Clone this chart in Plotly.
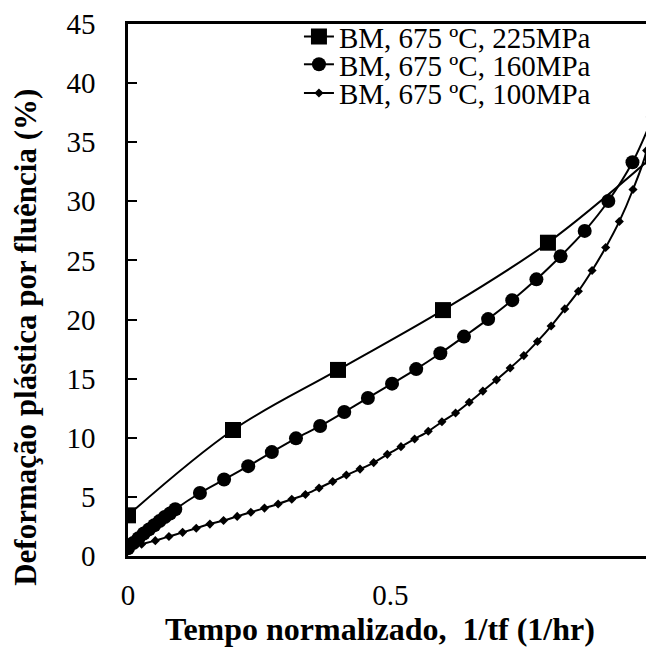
import plotly.graph_objects as go

# ---- data ----
x_225 = [0.0, 0.2, 0.4, 0.6, 0.8, 1.0]
y_225 = [3.44, 10.66, 15.74, 20.8, 26.5, 33.8]

x_160 = [0.0, 0.01, 0.02, 0.03, 0.04, 0.05, 0.06, 0.07, 0.08, 0.09,
         0.137, 0.183, 0.229, 0.274, 0.320, 0.366, 0.412, 0.457, 0.503, 0.549,
         0.595, 0.640, 0.686, 0.732, 0.778, 0.824, 0.870, 0.915, 0.961, 1.0]
y_160 = [0.65, 1.1, 1.5, 1.9, 2.25, 2.6, 2.95, 3.3, 3.6, 3.95,
         5.33, 6.47, 7.6, 8.79, 9.95, 11.0, 12.18, 13.37, 14.58, 15.81,
         17.15, 18.56, 20.04, 21.64, 23.4, 25.36, 27.5, 30.03, 33.3, 37.17]

x_100 = [0.000, 0.026, 0.052, 0.078, 0.104, 0.130, 0.156, 0.182, 0.208, 0.234,
         0.260, 0.286, 0.312, 0.338, 0.364, 0.390, 0.416, 0.442, 0.468, 0.494,
         0.520, 0.546, 0.572, 0.598, 0.624, 0.650, 0.676, 0.702, 0.728, 0.754,
         0.780, 0.806, 0.832, 0.858, 0.884, 0.910, 0.936, 0.962, 0.988, 1.000]
y_100 = [0.7, 1.0, 1.3, 1.65, 2.0, 2.35, 2.7, 3.0, 3.35, 3.7,
         4.05, 4.4, 4.8, 5.2, 5.75, 6.3, 6.85, 7.35, 7.9, 8.6,
         9.25, 9.9, 10.55, 11.35, 12.1, 13.0, 13.95, 14.9, 15.9, 16.95,
         18.15, 19.45, 20.9, 22.4, 24.15, 26.1, 28.3, 31.0, 34.3, 38.0]

series_names = ["BM, 675 ºC, 225MPa", "BM, 675 ºC, 160MPa", "BM, 675 ºC, 100MPa"]
x_ticks = [0, 0.5, 1]
x_tick_labels = ["0", "0.5", "1"]
y_ticks = [0, 5, 10, 15, 20, 25, 30, 35, 40, 45]

x_title = "Tempo normalizado,  1/tf (1/hr)"
y_title = "Deformação plástica por fluência (%)"

FONT = "Liberation Serif"

fig = go.Figure()
fig.add_trace(go.Scatter(x=x_225, y=y_225, mode="lines+markers", name=series_names[0],
                         line=dict(color="black", width=2, shape="spline"),
                         marker=dict(symbol="square", size=16, color="black"),
                         legend="legend"))
fig.add_trace(go.Scatter(x=x_160, y=y_160, mode="lines+markers", name=series_names[1],
                         line=dict(color="black", width=2, shape="spline"),
                         marker=dict(symbol="circle", size=14, color="black"),
                         legend="legend2"))
fig.add_trace(go.Scatter(x=x_100, y=y_100, mode="lines+markers", name=series_names[2],
                         line=dict(color="black", width=2, shape="spline"),
                         marker=dict(symbol="diamond", size=7, color="black"),
                         legend="legend3"))

leg_common = dict(x=0.325, xanchor="left", yanchor="middle", bgcolor="rgba(0,0,0,0)",
                  borderwidth=0, font=dict(family=FONT, size=29, color="black"))

# page body has an 8px margin: figure is shrunk so that it fills the 654x648 window
fig.update_layout(
    width=646, height=640,
    margin=dict(l=120, r=0, t=12, b=92),
    paper_bgcolor="white", plot_bgcolor="white",
    font=dict(family=FONT, color="black"),
    showlegend=True,
    legend=dict(y=0.976, **leg_common),
    legend2=dict(y=0.924, **leg_common),
    legend3=dict(y=0.870, **leg_common),
    xaxis=dict(range=[0, 1.002], tickvals=x_ticks, ticktext=x_tick_labels,
               showline=True, linecolor="black", linewidth=2.5, mirror=True,
               ticks="", showgrid=False, zeroline=False,
               tickfont=dict(family=FONT, size=29, color="black"),
               ticklabelstandoff=11),
    yaxis=dict(range=[0, 45], tickvals=y_ticks,
               showline=True, linecolor="black", linewidth=2.5,
               ticks="inside", ticklen=9, tickwidth=2, tickcolor="black",
               showgrid=False, zeroline=False,
               tickfont=dict(family=FONT, size=29, color="black"),
               ticklabelstandoff=24, ticklabeloverflow="allow"),
    annotations=[
        dict(text="<b>" + x_title + "</b>", xref="paper", yref="paper",
             x=0.48, y=-0.138, xanchor="center", yanchor="middle", showarrow=False,
             font=dict(family=FONT, size=32, color="black")),
        dict(text="<b>" + y_title + "</b>", xref="paper", yref="paper",
             x=-0.194, y=0.412, xanchor="center", yanchor="middle", showarrow=False,
             textangle=-90, font=dict(family=FONT, size=31, color="black")),
    ],
)

fig.write_html("out.html")
